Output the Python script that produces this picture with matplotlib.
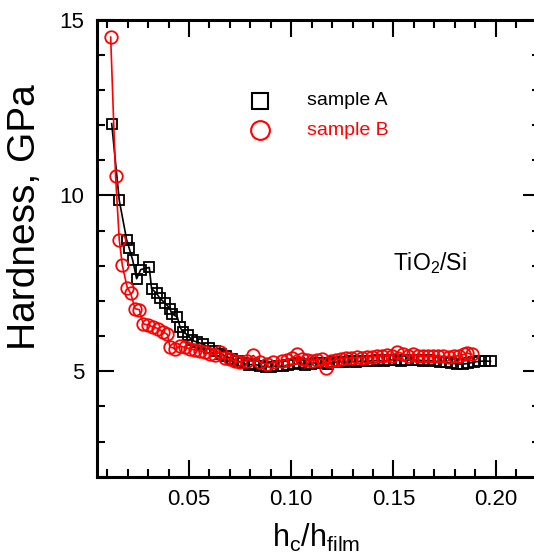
import matplotlib
matplotlib.use('agg')
import matplotlib.pyplot as plt
from matplotlib.ticker import MultipleLocator

plt.rcParams['font.family'] = ['Liberation Sans', 'DejaVu Sans']
plt.rcParams['mathtext.fontset'] = 'custom'
plt.rcParams['mathtext.rm'] = 'Liberation Sans'
plt.rcParams['mathtext.it'] = 'Liberation Sans'
plt.rcParams['mathtext.default'] = 'regular'

# sample A (squares)
xa = [0.0122, 0.0159, 0.0195, 0.0208, 0.0225, 0.0244, 0.0264, 0.0306, 0.0317,
      0.0342, 0.0358, 0.0383, 0.0407, 0.0415, 0.0443, 0.0456, 0.0469, 0.0497,
      0.0513, 0.0538, 0.0570, 0.0600, 0.0628, 0.0655, 0.0683, 0.0710, 0.0738,
      0.0765, 0.0793, 0.0820, 0.0848, 0.0875, 0.0903, 0.0930, 0.0958, 0.0985,
      0.1013, 0.1040, 0.1068, 0.1095, 0.1123, 0.1150, 0.1178, 0.1205, 0.1233,
      0.1260, 0.1288, 0.1315, 0.1343, 0.1370, 0.1398, 0.1425, 0.1453, 0.1480,
      0.1508, 0.1535, 0.1563, 0.1590, 0.1618, 0.1645, 0.1673, 0.1700, 0.1728,
      0.1755, 0.1783, 0.1810, 0.1838, 0.1865, 0.1893, 0.1920, 0.1948, 0.1975]
ya = [12.04, 9.86, 8.74, 8.49, 8.15, 7.63, 7.89, 7.95, 7.35,
      7.21, 7.07, 6.94, 6.78, 6.64, 6.54, 6.26, 6.12, 6.02,
      5.88, 5.83, 5.77, 5.66, 5.58, 5.50, 5.42, 5.36, 5.30,
      5.22, 5.18, 5.20, 5.15, 5.13, 5.12, 5.15, 5.14, 5.18,
      5.20, 5.22, 5.19, 5.21, 5.24, 5.22, 5.20, 5.25, 5.27,
      5.26, 5.28, 5.27, 5.29, 5.28, 5.30, 5.31, 5.29, 5.32,
      5.33, 5.30, 5.31, 5.33, 5.32, 5.30, 5.31, 5.29, 5.27,
      5.25, 5.22, 5.21, 5.20, 5.22, 5.26, 5.28, 5.29, 5.28]

# sample B (circles)
xb = [0.0117, 0.0141, 0.0159, 0.0174, 0.0198, 0.0215, 0.0236, 0.0257, 0.0276,
      0.0301, 0.0325, 0.0350, 0.0371, 0.0394, 0.0407, 0.0432, 0.0456, 0.0480,
      0.0505, 0.0530, 0.0554, 0.0578, 0.0603, 0.0627, 0.0652, 0.0676, 0.0701,
      0.0725, 0.0750, 0.0782, 0.0815, 0.0847, 0.0880, 0.0912, 0.0953, 0.0980,
      0.1005, 0.1028, 0.1053, 0.1078, 0.1102, 0.1127, 0.1150, 0.1172, 0.1195,
      0.1220, 0.1245, 0.1270, 0.1295, 0.1320, 0.1345, 0.1370, 0.1395, 0.1420,
      0.1445, 0.1470, 0.1495, 0.1520, 0.1545, 0.1570, 0.1596, 0.1620, 0.1645,
      0.1670, 0.1695, 0.1720, 0.1745, 0.1770, 0.1795, 0.1820, 0.1845, 0.1859,
      0.1883]
yb = [14.50, 10.54, 8.74, 8.01, 7.38, 7.21, 6.78, 6.75, 6.35,
      6.31, 6.26, 6.21, 6.12, 6.05, 5.69, 5.64, 5.71, 5.68,
      5.64, 5.60, 5.57, 5.55, 5.50, 5.46, 5.55, 5.38, 5.34,
      5.30, 5.25, 5.30, 5.45, 5.25, 5.20, 5.25, 5.30, 5.33,
      5.38, 5.48, 5.36, 5.33, 5.30, 5.32, 5.35, 5.10, 5.30,
      5.33, 5.36, 5.38, 5.37, 5.39, 5.38, 5.40, 5.41, 5.42,
      5.43, 5.45, 5.44, 5.55, 5.50, 5.42, 5.48, 5.44, 5.42,
      5.43, 5.44, 5.42, 5.43, 5.41, 5.42, 5.44, 5.48, 5.52,
      5.48]

fig = plt.figure(figsize=(5.34, 5.56), dpi=100)
# right spine sits just past the image edge, as in the original
ax = fig.add_axes([0.1816, 0.1426, 0.8296, 0.8223])

ax.plot(xa, ya, color='black', lw=1.2, marker='s', ms=7.8, mfc='none',
        mec='black', mew=1.3)
ax.plot(xb, yb, color='red', lw=1.2, marker='o', ms=9, mfc='none',
        mec='red', mew=1.3)

ax.set_xlim(0.005, 0.2217)
ax.set_ylim(2, 15)
ax.xaxis.set_minor_locator(MultipleLocator(0.01))
ax.yaxis.set_minor_locator(MultipleLocator(1))
ax.set_xticks([0.05, 0.10, 0.15, 0.20])
ax.set_xticklabels(['0.05', '0.10', '0.15', '0.20'])
ax.set_yticks([5, 10, 15])
ax.set_yticklabels(['5', '10', '15'])

ax.tick_params(which='both', direction='in', top=True, right=True,
               labelsize=16, width=1.5)
ax.tick_params(which='major', length=12, pad=9)
ax.tick_params(which='minor', length=6)
for s in ax.spines.values():
    s.set_linewidth(2.2)

# legend
ax.plot([0.369], [0.822], transform=ax.transAxes, marker='s', ms=11,
        mfc='none', mec='black', mew=1.5, clip_on=False)
ax.plot([0.369], [0.758], transform=ax.transAxes, marker='o', ms=13.5,
        mfc='none', mec='red', mew=1.5, clip_on=False)
ax.text(0.473, 0.822, 'sample A', transform=ax.transAxes, fontsize=14,
        va='center', ha='left', color='black')
ax.text(0.473, 0.758, 'sample B', transform=ax.transAxes, fontsize=14,
        va='center', ha='left', color='red')

ax.text(0.668, 0.452, 'TiO$_2$/Si', transform=ax.transAxes, fontsize=16.5,
        ha='left', va='baseline')

fig.text(0.046, 1 - 217 / 556, 'Hardness, GPa', rotation=90, fontsize=28,
         ha='center', va='center')
fig.text(316 / 534, 1 - 547 / 556, 'h$_c$/h$_{film}$', fontsize=22,
         ha='center', va='baseline')

fig.savefig('out.png', dpi=100)
